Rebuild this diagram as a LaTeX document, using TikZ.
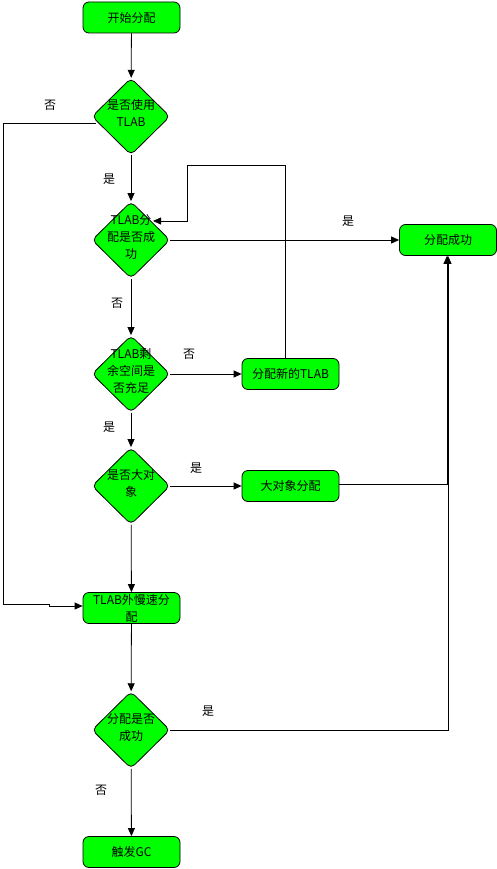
\documentclass[tikz,border=0pt]{standalone}
\usepackage{fontspec}
\setmainfont{Noto Sans CJK SC}
\usetikzlibrary{shapes.geometric,arrows.meta}
\newcommand\dtxt[1]{\raisebox{-3pt}{\smash{\makebox[0pt]{\begin{tabular}{@{}c@{}}#1\end{tabular}}}}}
\tikzset{
  base/.style={draw=black,line width=0.8pt,fill=green!100,font=\fontsize{12}{17}\selectfont},
  boxn/.style={base,rectangle,rounded corners=6pt,minimum width=97pt,minimum height=31pt,inner sep=0pt,align=center},
  dia/.style={base,diamond,rounded corners=5pt,minimum width=78pt,minimum height=77pt,inner sep=0pt},
  lbl/.style={font=\fontsize{12}{14}\selectfont,inner sep=0pt},
  arr/.style={line width=0.8pt,-{Triangle[length=8pt,width=7pt]}},
  ln/.style={line width=0.8pt}
}
\begin{document}
\begin{tikzpicture}[x=1pt,y=-1pt]
\useasboundingbox (0,0) rectangle (497,869);
\node[boxn] (start) at (131.5,17.5) {开始分配};
\node[dia] (d1) at (131,116.5) {\dtxt{是否使用\\TLAB}};
\node[dia] (d2) at (131,240) {\dtxt{TLAB分\\配是否成\\功}};
\node[boxn] (succ) at (448,240) {分配成功};
\node[dia] (d3) at (131,374) {\dtxt{TLAB剩\\余空间是\\否充足}};
\node[boxn] (newt) at (290.5,374) {分配新的TLAB};
\node[dia] (d4) at (131,486) {\dtxt{是否大对\\象}};
\node[boxn] (big) at (290.5,486) {大对象分配};
\node[boxn] (slow) at (131.5,608) {TLAB外慢速分\\配};
\node[dia] (d5) at (131,730) {\dtxt{分配是否\\成功}};
\node[boxn] (gc) at (131.5,852) {触发GC};

\coordinate (c1) at (3,123);
\coordinate (c2) at (3,604);
\coordinate (c3) at (49,604);
\coordinate (c4) at (49,606);
\coordinate (l1) at (285,165);
\coordinate (l2) at (187,165);
\coordinate (l3) at (187,221);
\coordinate (l4) at (153,221);

\draw[arr] (start) -- (d1);
\draw[arr] (d1) -- (d2);
\draw[arr] (d2) -- (d3);
\draw[arr] (d3) -- (d4);
\draw[arr] (d4) -- (slow);
\draw[arr] (slow) -- (d5);
\draw[arr] (d5) -- (gc);
\draw[arr] (d2.east) -- (succ.west);
\draw[arr] (d3.east) -- (newt.west);
\draw[arr] (d4.east) -- (big.west);
\draw[arr] ([xshift=4pt,yshift=-6.5pt]d1.west) -- (c1) -- (c2) -- (c3) -- (c4) -- ([yshift=2pt]slow.west);
\draw[arr] ([xshift=-5.5pt]newt.north) -- (l1) -- (l2) -- (l3) -- (l4);
\draw[arr] ([yshift=2pt]big.east) -| ([xshift=-1pt]succ.south);
\draw[arr] (d5.east) -| (succ.south);

\node[lbl] (t1) at (50,105) {否};
\node[lbl] (t2) at (109,179) {是};
\node[lbl] (t3) at (348,221) {是};
\node[lbl] (t4) at (117,303) {否};
\node[lbl] (t5) at (189,354) {否};
\node[lbl] (t6) at (109,427) {是};
\node[lbl] (t7) at (196,468) {是};
\node[lbl] (t8) at (208,711) {是};
\node[lbl] (t9) at (101,790) {否};
\end{tikzpicture}
\end{document}
